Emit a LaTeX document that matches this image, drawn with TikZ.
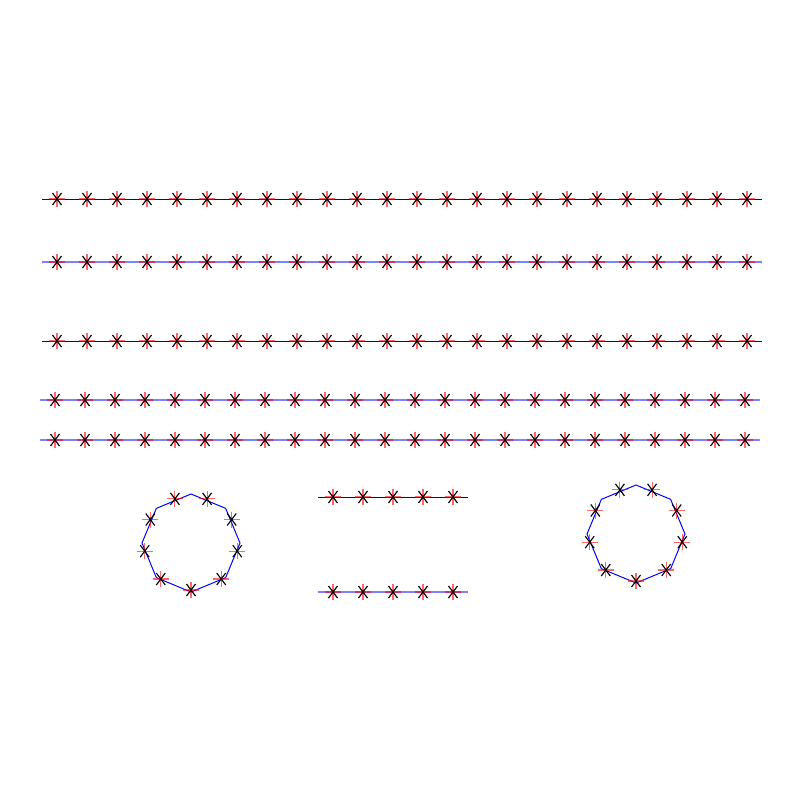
\documentclass[tikz,border=0pt]{standalone}
\begin{document}
\begin{tikzpicture}[x=0.025cm, y=-0.025cm,
    thinline/.style={blue!75!black, line width=0.7pt},
    thickline/.style={blue, opacity=0.5, line width=1.4pt},
    ringline/.style={blue, line width=0.7pt},
    crossmark/.pic={
        \draw[red, opacity=0.6, line width=0.8pt] (-8,0) -- (8,0) (0,-8) -- (0,8);
        \draw[black, line width=0.8pt] (-4.5,-6) -- (4.5,6) (-4.5,6) -- (4.5,-6);
    },
]
    \useasboundingbox (0,0) rectangle (800,800);

    % long rows
    \foreach \y/\x/\s in {199/57/thinline, 262/57/thickline, 341/57/thinline, 400/55/thickline, 440/55/thickline} {
        \draw[\s] (\x-15,\y) -- (\x+705,\y);
        \foreach \i in {0,...,23}
            \pic at (\x+30*\i,\y) {crossmark};
    }

    % short rows
    \foreach \y/\s in {497/thinline, 592/thickline} {
        \draw[\s] (318,\y) -- (468,\y);
        \foreach \i in {0,...,4}
            \pic at (333+30*\i,\y) {crossmark};
    }

    % rings
    \foreach \cx/\cy in {191/543, 636/534} {
        \begin{scope}[shift={(\cx,\cy)}]
            \draw[ringline] (0:49) \foreach \a in {45,90,...,315} {-- (\a:49)} -- cycle;
            \foreach \a in {90,130,...,410}
                \pic at (\a:47) {crossmark};
        \end{scope}
    }
\end{tikzpicture}
\end{document}
